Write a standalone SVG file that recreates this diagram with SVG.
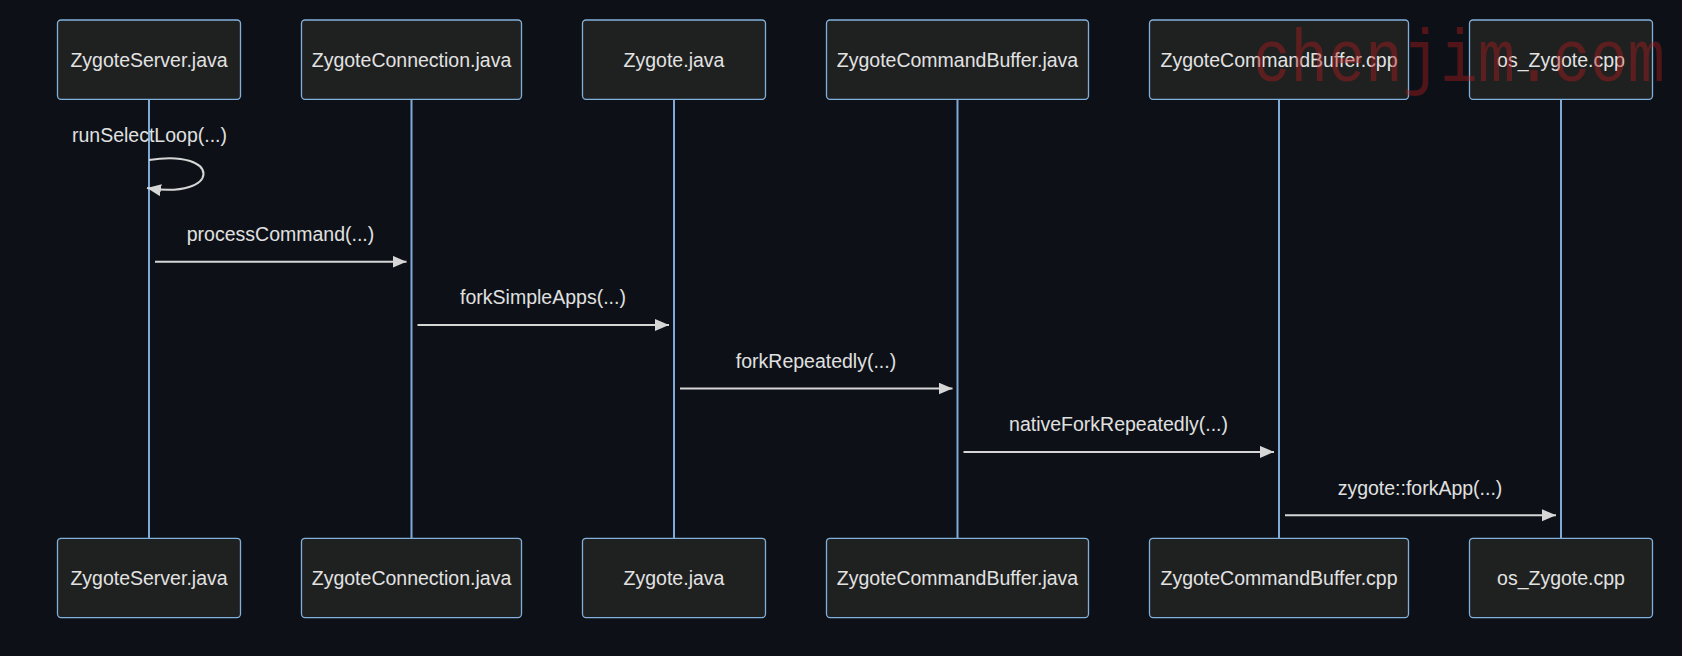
<svg xmlns="http://www.w3.org/2000/svg" width="1682" height="656" viewBox="0 0 1682 656">
  <style>
    .actor rect { fill: #1f2020; stroke: #81b1db; stroke-width: 1.3; }
    .actor text { fill: #e2e2e2; font-family: "Liberation Sans", Arial, sans-serif; font-size: 19.5px; text-anchor: middle; }
    .lifeline { stroke: #7fa9d6; stroke-width: 2; }
    .msg { stroke: #d6d6d6; stroke-width: 2; fill: none; }
    .msgtext { fill: #e0e0e0; font-family: "Liberation Sans", Arial, sans-serif; font-size: 19.5px; text-anchor: middle; }
    .wm { fill: #b01c1c; fill-opacity: 0.42; font-family: "Liberation Mono", "Courier New", monospace; font-size: 74px; }
  </style>
  <defs>
    <marker id="arrowhead" markerUnits="userSpaceOnUse" markerWidth="15" markerHeight="13" refX="14" refY="6" orient="auto">
      <path d="M0,0 L14,6 L0,12 z" fill="#d6d6d6"/>
    </marker>
  </defs>
  <rect x="0" y="0" width="1682" height="656" fill="#0d1117"/>

  <g id="lifelines">
    <line class="lifeline" x1="149" y1="99" x2="149" y2="539"/>
    <line class="lifeline" x1="411.5" y1="99" x2="411.5" y2="539"/>
    <line class="lifeline" x1="674" y1="99" x2="674" y2="539"/>
    <line class="lifeline" x1="957.5" y1="99" x2="957.5" y2="539"/>
    <line class="lifeline" x1="1279" y1="99" x2="1279" y2="539"/>
    <line class="lifeline" x1="1561" y1="99" x2="1561" y2="539"/>
  </g>

  <g id="ZygoteServer_top" class="actor"><rect x="57.5" y="20" width="183" height="79.3" rx="3.5"/><text x="149" y="66.8">ZygoteServer.java</text></g>
  <g id="ZygoteConnection_top" class="actor"><rect x="301.5" y="20" width="220" height="79.3" rx="3.5"/><text x="411.5" y="66.8">ZygoteConnection.java</text></g>
  <g id="Zygote_top" class="actor"><rect x="582.5" y="20" width="183" height="79.3" rx="3.5"/><text x="674" y="66.8">Zygote.java</text></g>
  <g id="ZygoteCommandBufferJava_top" class="actor"><rect x="826.5" y="20" width="262" height="79.3" rx="3.5"/><text x="957.5" y="66.8">ZygoteCommandBuffer.java</text></g>
  <g id="ZygoteCommandBufferCpp_top" class="actor"><rect x="1149.5" y="20" width="259" height="79.3" rx="3.5"/><text x="1279" y="66.8">ZygoteCommandBuffer.cpp</text></g>
  <g id="osZygote_top" class="actor"><rect x="1469.5" y="20" width="183" height="79.3" rx="3.5"/><text x="1561" y="66.8">os_Zygote.cpp</text></g>

  <g id="ZygoteServer_bottom" class="actor"><rect x="57.5" y="538.3" width="183" height="79.3" rx="3.5"/><text x="149" y="585">ZygoteServer.java</text></g>
  <g id="ZygoteConnection_bottom" class="actor"><rect x="301.5" y="538.3" width="220" height="79.3" rx="3.5"/><text x="411.5" y="585">ZygoteConnection.java</text></g>
  <g id="Zygote_bottom" class="actor"><rect x="582.5" y="538.3" width="183" height="79.3" rx="3.5"/><text x="674" y="585">Zygote.java</text></g>
  <g id="ZygoteCommandBufferJava_bottom" class="actor"><rect x="826.5" y="538.3" width="262" height="79.3" rx="3.5"/><text x="957.5" y="585">ZygoteCommandBuffer.java</text></g>
  <g id="ZygoteCommandBufferCpp_bottom" class="actor"><rect x="1149.5" y="538.3" width="259" height="79.3" rx="3.5"/><text x="1279" y="585">ZygoteCommandBuffer.cpp</text></g>
  <g id="osZygote_bottom" class="actor"><rect x="1469.5" y="538.3" width="183" height="79.3" rx="3.5"/><text x="1561" y="585">os_Zygote.cpp</text></g>

  <g id="connectors">
    <text class="msgtext" x="149.5" y="142.3">runSelectLoop(...)</text>
    <path class="msg" d="M149,160 C222,148 222,200 147,188" marker-end="url(#arrowhead)"/>

    <text class="msgtext" x="280.5" y="241">processCommand(...)</text>
    <line class="msg" x1="155" y1="261.7" x2="406.5" y2="261.7" marker-end="url(#arrowhead)"/>

    <text class="msgtext" x="543" y="304.4">forkSimpleApps(...)</text>
    <line class="msg" x1="417.5" y1="325.1" x2="669" y2="325.1" marker-end="url(#arrowhead)"/>

    <text class="msgtext" x="816" y="367.8">forkRepeatedly(...)</text>
    <line class="msg" x1="680" y1="388.5" x2="952.5" y2="388.5" marker-end="url(#arrowhead)"/>

    <text class="msgtext" x="1118.5" y="431.2">nativeForkRepeatedly(...)</text>
    <line class="msg" x1="963.5" y1="451.9" x2="1274" y2="451.9" marker-end="url(#arrowhead)"/>

    <text class="msgtext" x="1420" y="494.6">zygote::forkApp(...)</text>
    <line class="msg" x1="1285" y1="515.3" x2="1556" y2="515.3" marker-end="url(#arrowhead)"/>
  </g>

  <text class="wm" x="1253" y="81" textLength="412" lengthAdjust="spacingAndGlyphs">chenjim.com</text>
</svg>
